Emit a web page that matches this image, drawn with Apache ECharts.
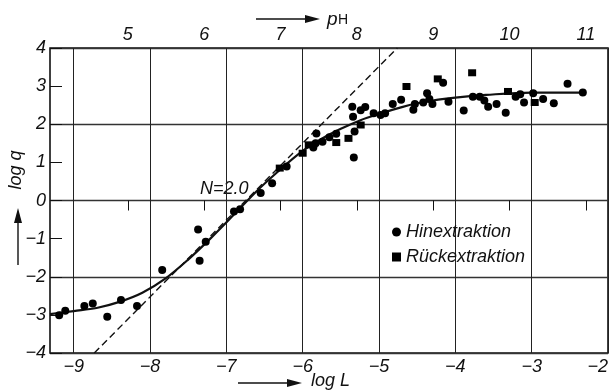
<!DOCTYPE html>
<html><head><meta charset="utf-8">
<script src="https://cdn.jsdelivr.net/npm/echarts@6/dist/echarts.min.js"></script>
<style>html,body{margin:0;padding:0;background:#fff}#c{width:612px;height:392px}</style>
</head><body><div id="c"></div>
<script>
// ---- data ----
const logLTicks = [-9, -8, -7, -6, -5, -4, -3, -2];
const pHTicks = [5, 6, 7, 8, 9, 10, 11];
const xMin = -9.31, xMax = -2;
const pHOffset = 13.29;   // pH = log L + 13.29 (top scale)
const yMin = -4, yMax = 4;

const hinextraktion = [
  [-9.19,-3.01],[-9.11,-2.89],[-8.86,-2.77],[-8.75,-2.70],[-8.56,-3.05],[-8.38,-2.61],[-8.17,-2.77],
  [-7.84,-1.82],[-7.37,-0.76],[-7.35,-1.58],[-7.27,-1.08],
  [-6.90,-0.29],[-6.82,-0.23],[-6.55,0.20],[-6.40,0.45],[-6.21,0.89],
  [-5.86,1.39],[-5.83,1.50],[-5.82,1.76],[-5.74,1.54],[-5.65,1.66],[-5.56,1.75],
  [-5.35,2.46],[-5.34,2.20],[-5.32,1.81],[-5.33,1.13],[-5.24,2.37],[-5.18,2.45],
  [-5.07,2.29],[-4.98,2.24],[-4.92,2.29],[-4.82,2.53],[-4.71,2.64],[-4.55,2.38],
  [-4.53,2.53],[-4.42,2.57],[-4.37,2.81],[-4.34,2.66],[-4.30,2.53],[-4.16,3.09],
  [-4.09,2.59],[-3.89,2.36],[-3.77,2.72],[-3.68,2.72],[-3.62,2.62],[-3.57,2.46],
  [-3.46,2.53],[-3.34,2.30],[-3.21,2.72],[-3.15,2.79],[-3.10,2.57],[-2.98,2.81],
  [-2.85,2.66],[-2.71,2.55],[-2.53,3.06],[-2.33,2.83]
];
const rueckextraktion = [
  [-6.30,0.85],[-6.00,1.24],[-5.92,1.46],[-5.56,1.52],[-5.40,1.63],[-5.24,1.98],
  [-4.64,2.99],[-4.23,3.19],[-3.78,3.35],[-3.31,2.86],[-2.96,2.57]
];
const fitCurve = [
  [-9.31,-2.98],[-9.0,-2.90],[-8.7,-2.82],[-8.4,-2.66],[-8.1,-2.42],[-7.8,-2.05],
  [-7.5,-1.55],[-7.2,-0.98],[-6.9,-0.37],[-6.6,0.25],[-6.3,0.80],[-6.0,1.30],
  [-5.75,1.62],[-5.5,1.88],[-5.25,2.10],[-5.0,2.27],[-4.7,2.45],[-4.4,2.59],
  [-4.0,2.70],[-3.6,2.77],[-3.0,2.83],[-2.33,2.83]
];
const slopeLine = [[-8.73,-4],[-4.76,4]];

// ---- chart ----
const FONT = "'Liberation Sans', Arial, sans-serif";
const minus = v => (v < 0 ? '\u2212' + Math.abs(v) : String(v));
const lblStyle = {fontSize: 18, fontStyle: 'italic', fontFamily: FONT, color: '#111'};
const chart = echarts.init(document.getElementById('c'), null, {renderer: 'canvas'});
chart.setOption({
  animation: false,
  backgroundColor: '#fff',
  grid: {left: 50, right: 4, top: 48, bottom: 39, show: true, borderColor: '#111', borderWidth: 1.6, backgroundColor: 'transparent'},
  xAxis: [
    {type: 'value', position: 'bottom', min: xMin, max: xMax,
     axisLine: {show: false},
     axisTick: {show: false, customValues: logLTicks},
     axisLabel: Object.assign({customValues: logLTicks, formatter: minus, margin: 5, alignMaxLabel: 'right'}, lblStyle),
     splitLine: {show: true, lineStyle: {color: '#222', width: 1}}},
    {type: 'value', position: 'top', min: xMin + pHOffset, max: xMax + pHOffset,
     axisLine: {show: false},
     axisTick: {show: true, inside: true, length: 10, customValues: pHTicks, lineStyle: {color: '#111', width: 1}},
     axisLabel: Object.assign({customValues: pHTicks, margin: 4}, lblStyle),
     splitLine: {show: false}}
  ],
  yAxis: [
    {type: 'value', min: yMin, max: yMax, interval: 1, position: 'left',
     axisLine: {show: false},
     axisTick: {show: true, inside: true, length: 12, lineStyle: {color: '#111', width: 1}},
     axisLabel: Object.assign({formatter: minus, margin: 4}, lblStyle),
     splitLine: {show: false}},
    {type: 'value', min: yMin, max: yMax, interval: 2, position: 'left',
     axisLine: {show: false}, axisTick: {show: false}, axisLabel: {show: false},
     splitLine: {show: true, lineStyle: {color: '#333', width: 1.3}}}
  ],
  legend: {
    orient: 'vertical', left: 387, top: 217, itemWidth: 9, itemHeight: 9, itemGap: 5,
    textStyle: {fontSize: 18, fontStyle: 'italic', fontFamily: FONT, color: '#111', lineHeight: 20},
    data: [{name: 'Hinextraktion', icon: 'circle'}, {name: 'Rückextraktion', icon: 'rect'}]
  },
  series: [
    {name: 'fit', type: 'line', data: fitCurve, smooth: 0.35, showSymbol: false, silent: true,
     lineStyle: {color: '#111', width: 2.2}, z: 3},
    {name: 'slope', type: 'line', data: slopeLine, showSymbol: false, silent: true,
     lineStyle: {color: '#111', width: 1.4, type: [7, 4]}, z: 3},
    {name: 'Hinextraktion', type: 'scatter', data: hinextraktion, symbol: 'circle', symbolSize: 8,
     itemStyle: {color: '#000', opacity: 1}, z: 4},
    {name: 'Rückextraktion', type: 'scatter', data: rueckextraktion, symbol: 'rect', symbolSize: [8, 7],
     itemStyle: {color: '#000', opacity: 1}, z: 4}
  ],
  graphic: [
    {type: 'text', left: 200, top: 180, style: {text: 'N=2.0', font: "italic 18px " + FONT, fill: '#111'}},
    // top axis name
    {type: 'line', shape: {x1: 256, y1: 19, x2: 308, y2: 19}, style: {stroke: '#111', lineWidth: 1.4}},
    {type: 'polygon', shape: {points: [[305, 15], [320, 19], [305, 23]]}, style: {fill: '#111'}},
    {type: 'text', x: 327, y: 29, style: {text: 'p', font: "italic 19px " + FONT, fill: '#111', verticalAlign: 'bottom'}},
    {type: 'text', x: 338, y: 27, style: {text: 'H', font: "14px " + FONT, fill: '#111', verticalAlign: 'bottom'}},
    // bottom axis name
    {type: 'line', shape: {x1: 238, y1: 383, x2: 290, y2: 383}, style: {stroke: '#111', lineWidth: 1.4}},
    {type: 'polygon', shape: {points: [[287, 379], [302, 383], [287, 387]]}, style: {fill: '#111'}},
    {type: 'text', x: 311, y: 381, style: {text: 'log L', font: "italic 18px " + FONT, fill: '#111', verticalAlign: 'middle'}},
    // left axis name
    {type: 'line', shape: {x1: 18, y1: 265, x2: 18, y2: 220}, style: {stroke: '#111', lineWidth: 1.4}},
    {type: 'polygon', shape: {points: [[14, 223], [18, 208], [22, 223]]}, style: {fill: '#111'}},
    {type: 'text', x: 16, y: 170, rotation: Math.PI / 2, style: {text: 'log q', font: "italic 18px " + FONT, fill: '#111', align: 'center', verticalAlign: 'middle'}}
  ]
});
</script>
</body></html>
